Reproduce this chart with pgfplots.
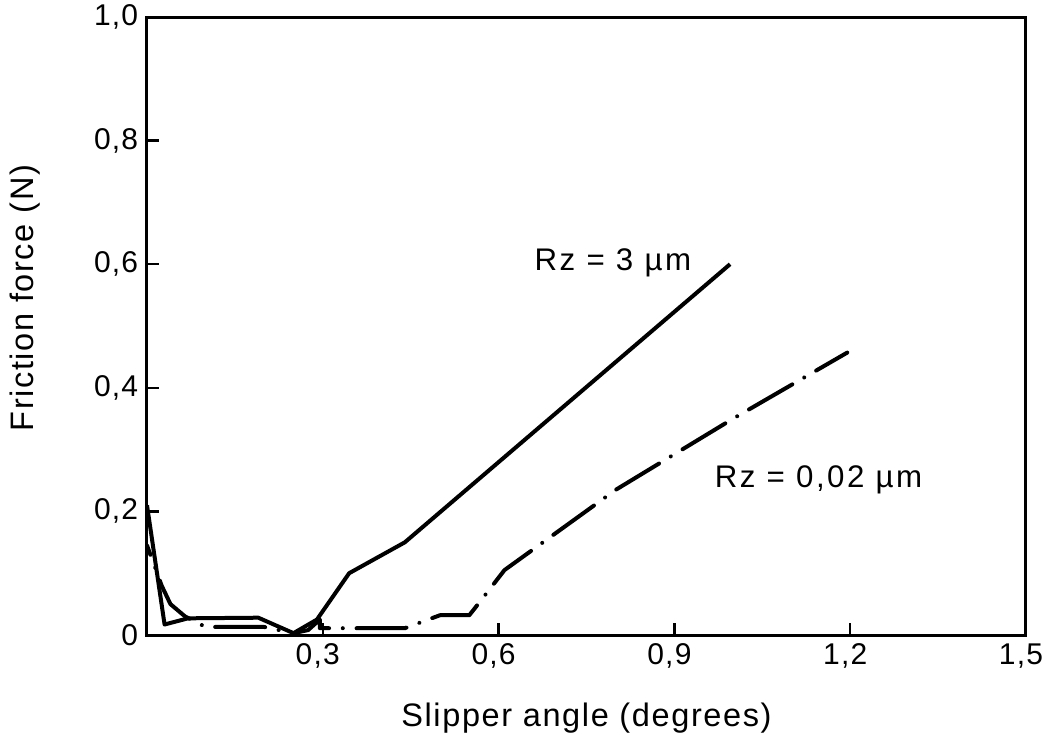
\documentclass[border=0pt]{standalone}
\usepackage{pgfplots}
\pgfplotsset{compat=1.18}
\usepackage{fontspec}
\setmainfont{Liberation Sans}
\usetikzlibrary{calc}

\newcommand{\tickfont}{\fontsize{12}{14}\selectfont\addfontfeatures{LetterSpace=4}}
\newcommand{\labfont}{\fontsize{13}{15}\selectfont\addfontfeatures{LetterSpace=5}}
\newcommand{\notefont}{\fontsize{12.5}{15}\selectfont\addfontfeatures{LetterSpace=8}}

\begin{document}
\begin{tikzpicture}
\begin{axis}[
    scale only axis,
    width=351.6pt,
    height=247.2pt,
    xmin=0, xmax=1.5,
    ymin=0, ymax=1,
    axis line style={line width=1.2pt},
    tick pos=left,
    tick align=inside,
    major tick length=5pt,
    tick style={line width=0.9pt, black},
    xtick={0.3,0.6,0.9,1.2,1.5},
    xticklabels={{0,3},{0,6},{0,9},{1,2},{1,5}},
    ytick={0,0.2,0.4,0.6,0.8,1},
    yticklabels={0,{0,2},{0,4},{0,6},{0,8},{1,0}},
    ticklabel style={font=\tickfont},
    xticklabel style={xshift=-2pt},
    xlabel={Slipper angle (degrees)},
    ylabel={Friction force (N)},
    xlabel style={font=\labfont, at={(axis description cs:0.5,-0.134)}, anchor=center},
    ylabel style={font=\labfont, at={(axis description cs:-0.139,0.545)}, anchor=center},
]

% Rz = 3 um
\addplot[black, line width=1.6pt, line join=round] coordinates {
    (0.000, 0.210)
    (0.030, 0.017)
    (0.070, 0.027)
    (0.190, 0.028)
    (0.250, 0.003)
    (0.290, 0.025)
    (0.345, 0.100)
    (0.440, 0.150)
    (0.995, 0.600)
};

% Rz = 0,02 um
\addplot[black, line width=1.6pt, line cap=round, line join=round,
    dash pattern=on 20pt off 5.5pt on 0.01pt off 5.5pt, dash phase=16pt] coordinates {
    (0.000, 0.145)
    (0.025, 0.080)
    (0.040, 0.050)
    (0.065, 0.030)
    (0.100, 0.013)
    (0.200, 0.013)
    (0.250, 0.003)
    (0.275, 0.008)
    (0.295, 0.025)
    (0.295, 0.011)
    (0.440, 0.011)
    (0.500, 0.032)
    (0.550, 0.032)
    (0.565, 0.050)
    (0.610, 0.105)
    (0.800, 0.235)
    (1.000, 0.350)
    (1.195, 0.457)
};

\node[font=\notefont] at (axis cs:0.795,0.602) {Rz = 3 µm};
\node[font=\notefont] at (axis cs:1.146,0.251) {Rz = 0,02 µm};

\end{axis}
\pgfresetboundingbox
\path ($(current axis.south west)+(-58.8pt,-41.6pt)$) rectangle ($(current axis.north east)+(8pt,6.8pt)$);
\end{tikzpicture}
\end{document}
